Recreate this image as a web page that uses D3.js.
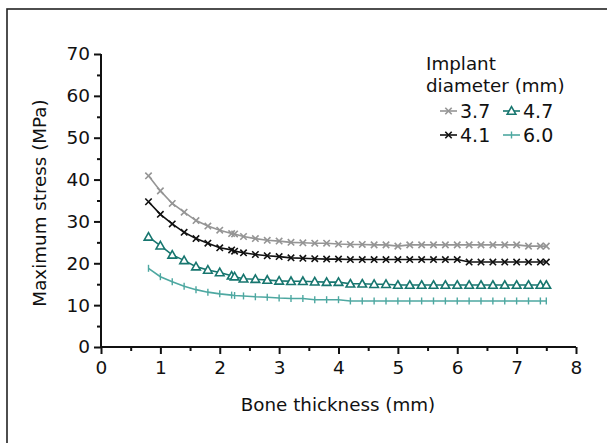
<!DOCTYPE html>
<html><head><meta charset="utf-8">
<script src="https://cdn.jsdelivr.net/npm/d3@7"></script>
<style>body{margin:0;background:#fff}svg{display:block}text{font-family:"DejaVu Sans",sans-serif;fill:#111}</style>
</head><body><svg id="c" width="607" height="443"></svg>
<script>
const thickness = [0.8,1.0,1.2,1.4,1.6,1.8,2.0,2.2,2.25,2.4,2.6,2.8,3.0,3.2,3.4,3.6,3.8,4.0,4.2,4.4,4.6,4.8,5.0,5.2,5.4,5.6,5.8,6.0,6.2,6.4,6.6,6.8,7.0,7.2,7.4,7.5];
const d37 = [40.9,37.3,34.3,32.2,30.2,28.9,27.9,27.1,27.0,26.4,25.9,25.5,25.3,25.0,24.9,24.8,24.8,24.6,24.5,24.5,24.4,24.4,24.1,24.4,24.4,24.4,24.4,24.4,24.4,24.4,24.4,24.4,24.4,24.1,24.1,24.1];
const d41 = [34.7,31.7,29.4,27.4,25.9,24.8,23.7,23.2,22.9,22.5,22.1,21.8,21.6,21.3,21.2,21.1,21.0,21.0,20.9,20.9,20.9,20.9,20.9,20.9,20.9,20.9,20.9,20.9,20.3,20.3,20.3,20.3,20.3,20.3,20.3,20.3];
const d47 = [26.3,24.2,22.0,20.7,19.2,18.4,17.8,17.0,16.8,16.3,16.2,16.0,15.8,15.7,15.7,15.6,15.5,15.5,15.1,15.1,15.0,15.0,14.8,14.8,14.8,14.8,14.8,14.8,14.8,14.8,14.8,14.8,14.8,14.8,14.8,14.8];
const d60 = [18.8,16.8,15.6,14.5,13.7,13.1,12.7,12.4,12.3,12.2,12.0,11.9,11.7,11.6,11.6,11.3,11.3,11.3,11.0,11.0,11.0,11.0,11.0,11.0,11.0,11.0,11.0,11.0,11.0,11.0,11.0,11.0,11.0,11.0,11.0,11.0];
const seriesNames = ["3.7","4.1","4.7","6.0"];
const xTicks = [0,1,2,3,4,5,6,7,8];
const yTicks = [0,10,20,30,40,50,60,70];

const series = [
  {name:"3.7", vals:d37, color:"#959595", marker:"x"},
  {name:"4.1", vals:d41, color:"#111111", marker:"x"},
  {name:"4.7", vals:d47, color:"#17766f", marker:"tri"},
  {name:"6.0", vals:d60, color:"#4ea8a1", marker:"tick"}
];

const svg = d3.select("#c");
svg.append("rect").attr("x",7).attr("y",9).attr("width",640).attr("height",480)
  .attr("fill","none").attr("stroke","#222").attr("stroke-width",1.6);

const x = d3.scaleLinear().domain([0,8]).range([101,576]);
const y = d3.scaleLinear().domain([0,70]).range([347,54]);

const gx = svg.append("g").attr("transform","translate(0,347)");
gx.call(d3.axisBottom(x).tickValues(xTicks).tickSize(7).tickPadding(7).tickFormat(d3.format("d")));
gx.append("g").call(d3.axisBottom(x).tickValues(d3.range(0.5,8,1)).tickSize(4).tickFormat(""));
const gy = svg.append("g").attr("transform","translate(101,0)");
gy.call(d3.axisLeft(y).tickValues(yTicks).tickSize(7).tickPadding(4));
gy.append("g").call(d3.axisLeft(y).tickValues(d3.range(5,70,10)).tickSize(4).tickFormat(""));
svg.selectAll(".domain").attr("stroke","#111").attr("stroke-width",2);
svg.selectAll(".tick line").attr("stroke","#111").attr("stroke-width",2);
svg.selectAll(".tick text").attr("font-size",18.5).attr("font-family","DejaVu Sans").attr("fill","#111");
gx.selectAll(".domain").attr("d","M"+x(0)+",0H"+x(8));
gy.selectAll(".domain").attr("d","M0,"+y(0)+"V"+y(70));

svg.append("text").attr("x",338).attr("y",411).attr("text-anchor","middle").attr("font-size",18.3).text("Bone thickness (mm)");
svg.append("text").attr("transform","translate(46,203) rotate(-90)").attr("text-anchor","middle").attr("font-size",18.3).text("Maximum stress (MPa)");

function drawMarker(g, type, cx, cy, color){
  if(type==="x"){
    const s=3.2;
    g.append("path").attr("d",`M${cx-s},${cy-s}L${cx+s},${cy+s}M${cx-s},${cy+s}L${cx+s},${cy-s}`)
      .attr("stroke",color).attr("stroke-width",1.6).attr("fill","none");
  } else if(type==="tri"){
    const s=4.3;
    g.append("path").attr("d",`M${cx},${cy-s}L${cx+s},${cy+s*0.75}L${cx-s},${cy+s*0.75}Z`)
      .attr("stroke",color).attr("stroke-width",1.6).attr("fill","#fff");
  } else {
    g.append("path").attr("d",`M${cx},${cy-3.5}V${cy+3.5}`).attr("stroke",color).attr("stroke-width",1.4);
  }
}

const line = d3.line().x((d,i)=>x(thickness[i])).y(d=>y(d));
series.forEach(s=>{
  const g = svg.append("g");
  g.append("path").datum(s.vals).attr("d",line).attr("fill","none").attr("stroke",s.color).attr("stroke-width",1.6);
  s.vals.forEach((v,i)=>drawMarker(g,s.marker,x(thickness[i]),y(v),s.color));
});

svg.append("text").attr("x",426).attr("y",70).attr("font-size",18.3).text("Implant");
svg.append("text").attr("x",426).attr("y",92).attr("font-size",18.3).text("diameter (mm)");
const legPos = [[440,111],[440,135],[503,111],[503,135]];
series.forEach((s,i)=>{
  const [lx,ly]=legPos[i];
  const g=svg.append("g");
  g.append("line").attr("x1",lx).attr("x2",lx+17).attr("y1",ly).attr("y2",ly).attr("stroke",s.color).attr("stroke-width",1.6);
  drawMarker(g,s.marker,lx+8.5,ly,s.color);
  svg.append("text").attr("x",lx+20).attr("y",ly+6.5).attr("font-size",19).text(seriesNames[i]);
});
</script></body></html>
